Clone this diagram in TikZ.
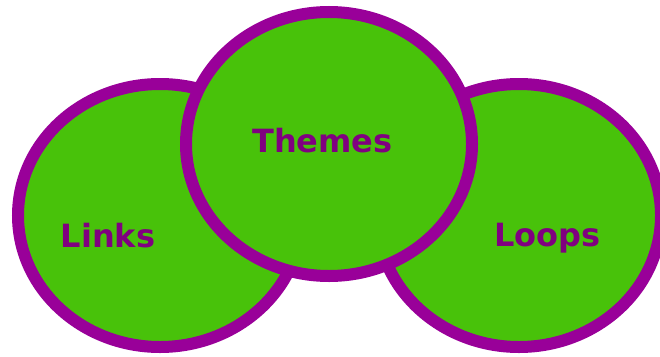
\documentclass[tikz,border=0pt]{standalone}
\usepackage{fontspec}
\setmainfont{DejaVu Sans}
\definecolor{leaf}{RGB}{72,194,10}
\definecolor{rim}{RGB}{153,0,153}
\definecolor{ink}{RGB}{128,0,128}
\tikzset{
  blob/.style={fill=leaf,draw=rim,line width=12pt},
  word/.style={text=ink,anchor=base,inner sep=0pt,font=\fontsize{32}{38}\selectfont\bfseries}
}
\begin{document}
\begin{tikzpicture}[x=1pt,y=-1pt]
      \useasboundingbox (0,0) rectangle (660,356);
      % side circles first, the middle one sits on top
      \filldraw[blob] (160,215.5) ellipse (142 and 131.5);
      \filldraw[blob] (519,215.5) ellipse (142 and 131.5);
      \filldraw[blob] (329,144) ellipse (143 and 132);

      % labels, placed on their baselines
      \node[word] (links) at (108,247) {Links};
      \node[word] (themes) at (322.5,152) {Themes};
      \node[word] (loops) at (547.5,246.5) {Loops};
    \end{tikzpicture}
\end{document}
